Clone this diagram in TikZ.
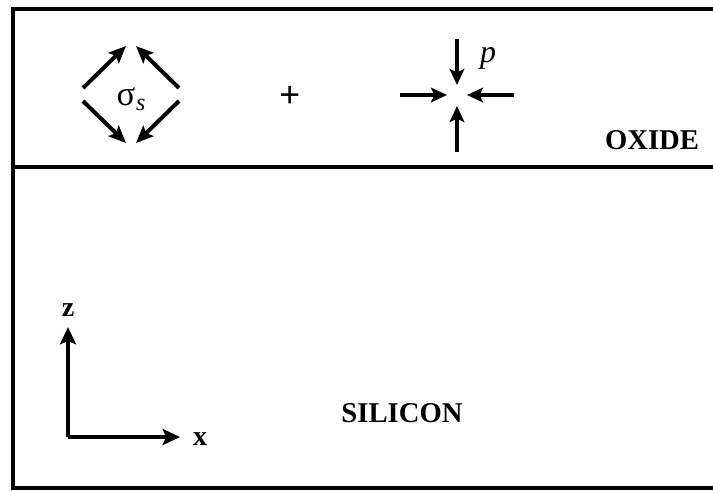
\documentclass[tikz,border=0pt]{standalone}
\usepackage{fontspec}
\setmainfont{Liberation Serif}
\usetikzlibrary{arrows.meta}
\tikzset{
  frame/.style={line width=2.5pt},
  sarrow/.style={line width=3pt,-{Stealth[length=13pt,width=11pt,inset=2.5pt]}},
  parrow/.style={line width=2.6pt,-{Stealth[length=12pt,width=11pt,inset=2.5pt]}},
  axarrow/.style={line width=3.2pt,-{Stealth[length=13pt,width=12pt,inset=2.5pt]}},
  lbl/.style={inner sep=0pt,font=\fontsize{21.5}{24}\selectfont\bfseries},
  axl/.style={inner sep=0pt,font=\fontsize{21}{24}\selectfont\bfseries},
  sym/.style={inner sep=0pt,font=\fontsize{26}{30}\selectfont}
}
\begin{document}
\begin{tikzpicture}[x=0.75pt,y=-0.75pt]
\useasboundingbox (0,0) rectangle (713,490);
\clip (0,0) rectangle (713,490);
% frame
\coordinate (tl) at (13,9);
\coordinate (tr) at (730,9);
\coordinate (bl) at (13,488);
\coordinate (br) at (730,488);
\coordinate (ml) at (13,167);
\coordinate (mr) at (730,167);
\draw[frame] (tr) -- (tl) -- (bl) -- (br);
\draw[frame] (ml) -- (mr);
% sigma_s diamond
\node[sym] (sig) at (131,99) {σ\kern0.5pt\raisebox{-3.5pt}{\fontsize{18}{20}\selectfont\itshape s}};
\coordinate (a1s) at (83,88);  \coordinate (a1e) at (126,46);
\coordinate (a2s) at (179,88); \coordinate (a2e) at (136,46);
\coordinate (a3s) at (83,101); \coordinate (a3e) at (126,143);
\coordinate (a4s) at (179,101);\coordinate (a4e) at (136,143);
\draw[sarrow] (a1s) -- (a1e);
\draw[sarrow] (a2s) -- (a2e);
\draw[sarrow] (a3s) -- (a3e);
\draw[sarrow] (a4s) -- (a4e);
% plus
\node[sym,font=\fontsize{28}{30}\selectfont\bfseries] (plus) at (290,97) {+};
% pressure
\coordinate (pts) at (457,39);  \coordinate (pte) at (457,85);
\coordinate (pbs) at (457,152); \coordinate (pbe) at (457,106);
\coordinate (pls) at (400,95);  \coordinate (ple) at (447,95);
\coordinate (prs) at (514,95);  \coordinate (pre) at (467,95);
\draw[parrow] (pts) -- (pte);
\draw[parrow] (pbs) -- (pbe);
\draw[parrow] (pls) -- (ple);
\draw[parrow] (prs) -- (pre);
\node[sym,font=\fontsize{24}{28}\selectfont\itshape] (p) at (488,58) {p};
% labels
\node[lbl] (oxide) at (652,140) {OXIDE};
\node[lbl] (silicon) at (402,413) {SILICON};
% axes
\coordinate (o) at (68,437);
\coordinate (zend) at (68,327);
\coordinate (xend) at (180,437);
\draw[axarrow] (o) -- (zend);
\draw[axarrow] (o) -- (xend);
\node[axl] (zl) at (68,310) {z};
\node[axl] (xl) at (200,439) {x};
\end{tikzpicture}
\end{document}
